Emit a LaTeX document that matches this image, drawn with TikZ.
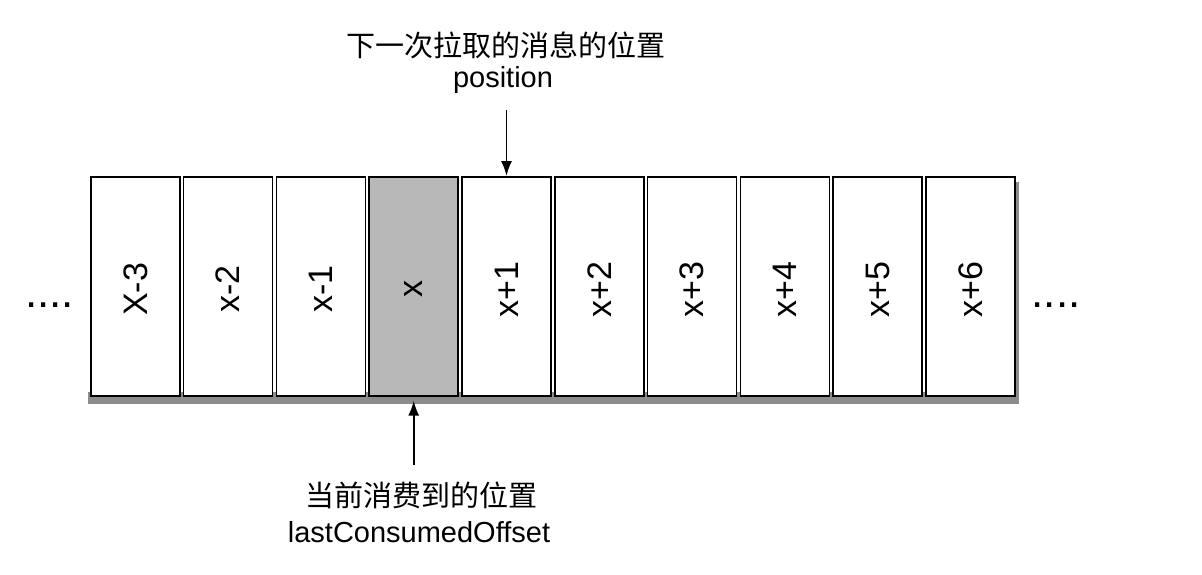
\documentclass[tikz,border=0pt]{standalone}
\usepackage{fontspec}
\setmainfont{Liberation Sans}
\newfontfamily\cjk{Noto Sans CJK SC}
\usetikzlibrary{arrows.meta}

\begin{document}
\begin{tikzpicture}[x=1pt,y=-1pt,
   cell/.style={draw,line width=1.6pt,minimum width=89pt,minimum height=219pt,inner sep=0pt},
   lbl/.style={font=\fontsize{34}{34}\selectfont,rotate=90},
   txt/.style={font=\fontsize{29}{30}\selectfont,inner sep=0pt},
   more/.style={font=\fontsize{44}{44}\selectfont,inner sep=0pt,anchor=base},
   ptr/.style={-{Latex[length=15pt,width=11pt]},line width=1.8pt}]
   \useasboundingbox (0,0) rectangle (1202,574);
   % shadow under the row
   \fill[black!45] (88,392) rectangle (1019,404);
   \fill[black!45] (1012,182) rectangle (1019,404);
   % the messages
   \foreach \lab/\col [count=\i] in {X-3/white,x-2/white,x-1/white,x/black!28,x+1/white,
                                     x+2/white,x+3/white,x+4/white,x+5/white,x+6/white} {
     \node[cell,fill=\col,anchor=north west] (c\i) at ({90+(\i-1)*92.8},176) {};
     \node[lbl] (l\i) at ([yshift=-3pt]c\i.center) {\lab};
   }
   \node[more] (ldots) at (49.5,307) {....};
   \node[more] (rdots) at (1056,307) {....};
   % next position
   \node[txt] (nexttxt) at (506,45) {\cjk 下一次拉取的消息的位置};
   \node[txt] (nextpos) at (503,80) {position};
   \coordinate (ptop) at ([yshift=66pt]c5.north);
   \draw[ptr] (ptop) -- (c5.north);
   % consumed position
   \node[txt] (curtxt) at (421,495) {\cjk 当前消费到的位置};
   \node[txt] (curoff) at (419,532) {lastConsumedOffset};
   \coordinate (pbot) at ([yshift=-68pt]c4.south);
   \draw[ptr] (pbot) -- ([yshift=-4pt]c4.south);
\end{tikzpicture}
\end{document}
